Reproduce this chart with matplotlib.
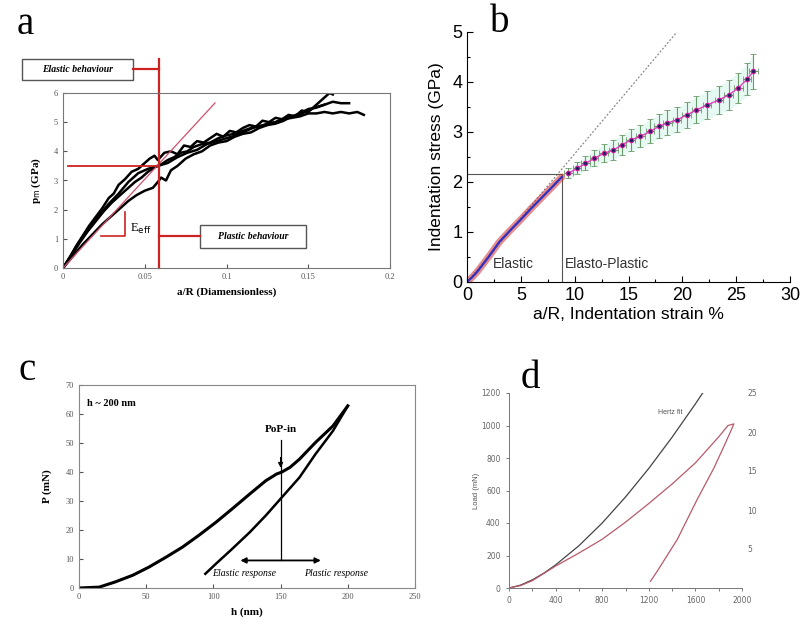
import matplotlib.pyplot as plt
from matplotlib.patches import Rectangle

# ---- panel a : mean pressure vs a/R (several indents)
a_x1 = [0, .004, .008, .012, .016, .02, .024, .028, .031, .034, .038, .042, .046, .05, .053, .056, .058, .062, .066, .07,
        .074, .078, .082, .086, .09, .094, .098, .102, .106, .11, .114, .118, .122, .126, .13, .134, .138, .142, .146,
        .15, .154, .157, .16, .163, .165]
a_y1 = [0, .35, .75, 1.1, 1.45, 1.75, 2.05, 2.4, 2.55, 2.85, 3.05, 3.3, 3.4, 3.6, 3.75, 3.85, 3.7, 3.95, 4.0, 3.9,
        4.2, 4.15, 4.35, 4.3, 4.45, 4.6, 4.5, 4.7, 4.65, 4.8, 4.9, 4.85, 5.05, 5.0, 5.15, 5.1, 5.25, 5.2, 5.4,
        5.35, 5.55, 5.7, 5.85, 6.0, 5.95]
a_x2 = [0, .005, .01, .015, .02, .025, .03, .035, .04, .044, .048, .052, .056, .06, .064, .068, .072, .076, .08, .085,
        .09, .095, .1, .105, .11, .115, .12, .125, .13, .135, .14, .145, .15, .155, .16, .165, .17, .175, .18, .184]
a_y2 = [0, .4, .85, 1.25, 1.6, 1.95, 2.25, 2.5, 2.75, 2.95, 3.1, 3.3, 3.45, 3.55, 3.7, 3.8, 3.95, 4.0, 4.15, 4.25,
        4.3, 4.45, 4.55, 4.6, 4.7, 4.8, 4.85, 4.95, 5.0, 5.1, 5.15, 5.2, 5.3, 5.3, 5.35, 5.3, 5.35, 5.3, 5.35, 5.25]
a_x3 = [0, .006, .012, .018, .024, .03, .036, .04, .045, .05, .055, .058, .06, .063, .066, .07, .075, .08, .085, .09,
        .095, .1, .105, .11, .115, .12, .125, .13, .135, .14, .145, .15, .155, .16, .165, .17, .175]
a_y3 = [0, .4, .8, 1.15, 1.5, 1.8, 2.1, 2.3, 2.5, 2.65, 2.75, 2.95, 3.1, 3.0, 3.35, 3.5, 3.75, 3.9, 4.0, 4.2,
        4.3, 4.35, 4.5, 4.6, 4.65, 4.8, 4.9, 4.95, 5.05, 5.2, 5.3, 5.45, 5.5, 5.6, 5.7, 5.65, 5.65]
a_x4 = [0, .005, .01, .016, .022, .028, .034, .04, .046, .052, .058, .064, .07, .076, .082, .088, .094, .1, .106,
        .112, .118, .124, .13, .136, .142, .148, .154, .16]
a_y4 = [0, .45, .9, 1.35, 1.8, 2.2, 2.55, 2.95, 3.25, 3.4, 3.5, 3.6, 3.8, 3.95, 4.05, 4.25, 4.35, 4.45, 4.55,
        4.7, 4.85, 4.9, 5.0, 5.15, 5.2, 5.35, 5.5, 5.6]
a_curves = [(a_x1, a_y1), (a_x2, a_y2), (a_x3, a_y3), (a_x4, a_y4)]
a_fit_x = [0, 0.093]
a_fit_y = [0, 5.66]
a_yield_x = 0.0587
a_yield_y = 3.5

# ---- panel b : indentation stress-strain
b_el_x = [0, 0.5, 1, 1.5, 2, 2.5, 3, 4, 5, 6, 7, 8, 8.8]
b_el_y = [0, 0.1, 0.22, 0.36, 0.5, 0.65, 0.8, 1.03, 1.25, 1.48, 1.7, 1.92, 2.1]
b_pl_x = [9.4, 10.2, 11.0, 11.8, 12.7, 13.6, 14.4, 15.2, 16.1, 17.0, 17.8, 18.6, 19.5, 20.4, 21.3, 22.3, 23.4,
          24.3, 25.2, 26.0, 26.6]
b_pl_y = [2.17, 2.27, 2.37, 2.47, 2.57, 2.64, 2.74, 2.84, 2.91, 3.01, 3.11, 3.18, 3.24, 3.34, 3.44, 3.54, 3.64,
          3.74, 3.88, 4.05, 4.21]
b_pl_err = [0.1, 0.12, 0.14, 0.16, 0.18, 0.2, 0.2, 0.22, 0.22, 0.24, 0.24, 0.25, 0.25, 0.26, 0.27, 0.28, 0.28,
            0.3, 0.3, 0.32, 0.35]
b_pl_xerr = [0.4] * 21
b_fit_x = [0, 19.5]
b_fit_y = [0, 5.0]
b_yield_x = 8.8
b_yield_y = 2.15

# ---- panel c : load-displacement with pop-in
c_load_h = [0, 15, 27, 40, 52, 65, 77, 89, 102, 114, 127, 139, 147, 151, 157, 164, 176, 189, 200]
c_load_p = [0, 0.3, 2.1, 4.4, 7.2, 10.7, 14.1, 18.1, 22.7, 27.3, 32.4, 37.0, 39.3, 40.0, 41.6, 44.4, 50.2, 55.9, 62.8]
c_unl_h = [200, 189, 176, 164, 151, 139, 127, 114, 102, 94]
c_unl_p = [62.8, 54.2, 46.2, 38.1, 31.3, 25.0, 19.2, 13.5, 8.4, 4.9]
c_popin_h = 150

# ---- panel d : Hertz fit and load/unload loop
d_hertz_h = [0, 100, 200, 300, 400, 600, 800, 1000, 1200, 1400, 1600, 1700]
d_hertz_p = [0, 18, 50, 92, 142, 260, 400, 560, 736, 928, 1133, 1240]
d_loop_h = [0, 100, 200, 400, 600, 800, 1000, 1200, 1400, 1600, 1800, 1880, 1930, 1900, 1850, 1760, 1614, 1443,
            1271, 1214]
d_loop_p = [0, 15, 45, 135, 215, 300, 405, 520, 640, 770, 930, 1000, 1010, 960, 880, 740, 543, 297, 102, 41]

W, H = 800, 631
fig = plt.figure(figsize=(W / 100, H / 100), dpi=100)


def box(l, t, r, b):
    return [l / W, 1 - b / H, (r - l) / W, (b - t) / H]


serif = 'Liberation Serif'
sans = 'Liberation Sans'

# ================= a
ax = fig.add_axes(box(63, 93, 390, 268))
for xs, ys in a_curves:
    ax.plot(xs, ys, color='black', lw=1.8)
ax.plot(a_fit_x, a_fit_y, color='#d0506a', lw=0.9)
red = '#cc2222'
ax.plot([a_yield_x, a_yield_x], [0, 7.17], color=red, lw=1.6, clip_on=False)
ax.plot([0.003, a_yield_x], [a_yield_y, a_yield_y], color=red, lw=1.3)
ax.plot([0.023, 0.038, 0.038], [1.09, 1.09, 1.91], color=red, lw=1.2)
ax.text(0.041, 1.35, r'E$_{\rm eff}$', family=serif, fontsize=9, ha='left', va='center')
ax.set_xlim(0, 0.2)
ax.set_ylim(0, 6)
ax.set_xticks([0, 0.05, 0.1, 0.15, 0.2])
ax.set_xticklabels(['0', '0.05', '0.1', '0.15', '0.2'])
ax.set_xlabel('a/R (Diamensionless)', family=serif, fontsize=8, fontweight='bold', labelpad=5)
ax.set_ylabel(r'p$_{\rm m}$ (GPa)', family=serif, fontsize=8, fontweight='bold', labelpad=8)
ax.tick_params(direction='in', labelsize=6, colors='#555555', length=3)
for lab in ax.get_xticklabels() + ax.get_yticklabels():
    lab.set_family(serif)
for s in ax.spines.values():
    s.set_color('#777777')

# boxes with connectors (figure pixels)
for (l, t, r, b), txt, y_c, x_from, x_to in [((22, 59, 133, 80), 'Elastic behaviour', 69, 133, 159),
                                             ((200, 225, 306, 248), 'Plastic behaviour', 236, 159, 200)]:
    fig.patches.append(Rectangle((l / W, 1 - b / H), (r - l) / W, (b - t) / H, transform=fig.transFigure,
                                 fill=False, ec='#555555', lw=1.0))
    fig.text((l + r) / 2 / W, 1 - (t + b) / 2 / H, txt, family=serif, fontsize=7, style='italic',
             fontweight='bold', ha='center', va='center')
    fig.add_artist(plt.Line2D([x_from / W, x_to / W], [1 - y_c / H, 1 - y_c / H], color=red, lw=1.6))

# ================= b
ax = fig.add_axes(box(467, 32, 790, 282))
ax.plot(b_fit_x, b_fit_y, color='#888888', lw=0.9, ls=(0, (1.5, 1.5)))
ax.plot([0, b_yield_x, b_yield_x], [b_yield_y, b_yield_y, 0], color='#555555', lw=0.8)
lo = [y - e for y, e in zip(b_pl_y, b_pl_err)]
hi = [y + e for y, e in zip(b_pl_y, b_pl_err)]
ax.fill_between(b_pl_x, lo, hi, color='#b8eedd', alpha=0.35, lw=0)
ax.plot(b_el_x, b_el_y, color='#d03030', lw=5, alpha=0.55, solid_capstyle='round')
ax.plot(b_el_x, b_el_y, color='#3030c0', lw=1.6)
ax.errorbar(b_pl_x, b_pl_y, yerr=b_pl_err, xerr=b_pl_xerr, fmt='none', ecolor='#6a9a6a', elinewidth=0.8,
            capsize=2, capthick=0.6)
ax.plot(b_pl_x, b_pl_y, color='#e040c0', lw=1.0)
ax.plot(b_pl_x, b_pl_y, 'o', color='#202060', ms=3.2, mec='#d020a0', mew=0.8)
ax.text(4.3, 0.35, 'Elastic', family=sans, fontsize=10, color='#333333', ha='center', va='center')
ax.text(9.1, 0.35, 'Elasto-Plastic', family=sans, fontsize=10, color='#333333', ha='left', va='center')
ax.set_xlim(0, 30)
ax.set_ylim(0, 5)
ax.set_xticks(range(0, 31, 5))
ax.set_xticks([2.5, 7.5, 12.5, 17.5, 22.5, 27.5], minor=True)
ax.set_yticks(range(0, 6))
ax.set_yticks([0.5, 1.5, 2.5, 3.5, 4.5], minor=True)
ax.tick_params(which='both', direction='in', labelsize=13, length=4, width=0.8)
ax.tick_params(which='minor', length=2)
for lab in ax.get_xticklabels() + ax.get_yticklabels():
    lab.set_family(sans)
ax.spines['top'].set_visible(False)
ax.spines['right'].set_visible(False)
ax.set_xlabel('a/R, Indentation strain %', family=sans, fontsize=12.5, labelpad=2)
ax.set_ylabel('Indentation stress (GPa)', family=sans, fontsize=12.5, labelpad=6)

# ================= c
ax = fig.add_axes(box(79, 385, 415, 588))
ax.plot(c_load_h, c_load_p, color='black', lw=2.2)
ax.plot(c_unl_h, c_unl_p, color='black', lw=1.8)
ax.plot([c_popin_h, c_popin_h], [9.5, 51], color='black', lw=0.9)
ax.annotate('', xy=(c_popin_h, 40.5), xytext=(c_popin_h, 46),
            arrowprops=dict(arrowstyle='-|>', color='black', lw=0.9, mutation_scale=7))
ax.text(c_popin_h, 54.5, 'PoP-in', family=serif, fontsize=8, fontweight='bold', ha='center', va='center')
ax.annotate('', xy=(118, 9.5), xytext=(182, 9.5),
            arrowprops=dict(arrowstyle='<|-|>', color='black', lw=1.3, mutation_scale=8))
ax.text(123, 4.9, 'Elastic response', family=serif, fontsize=7, style='italic', ha='center', va='center')
ax.text(191, 4.9, 'Plastic response', family=serif, fontsize=7, style='italic', ha='center', va='center')
ax.text(6, 63.5, 'h ~ 200 nm', family=serif, fontsize=7.5, fontweight='bold', ha='left', va='center')
ax.set_xlim(0, 250)
ax.set_ylim(0, 70)
ax.set_xticks(range(0, 251, 50))
ax.set_yticks(range(0, 71, 10))
ax.tick_params(direction='in', labelsize=6, colors='#555555', length=3)
for lab in ax.get_xticklabels() + ax.get_yticklabels():
    lab.set_family(serif)
for s in ax.spines.values():
    s.set_color('#888888')
ax.set_xlabel('h (nm)', family=serif, fontsize=8, fontweight='bold', labelpad=5)
ax.set_ylabel('P (mN)', family=serif, fontsize=8, fontweight='bold', labelpad=10)

# ================= d
ax = fig.add_axes(box(509, 393, 742, 588))
ax.plot(d_hertz_h, d_hertz_p, color='#444444', lw=0.9)
ax.plot(d_loop_h, d_loop_p, color='#b85a6a', lw=0.9)
ax.text(1380, 1077, 'Hertz fit', family=sans, fontsize=5, color='#555555', ha='center', va='center')
ax.set_xlim(0, 2000)
ax.set_ylim(0, 1200)
ax.set_xticks(range(0, 2001, 400))
ax.set_xticks(range(200, 2000, 400), minor=True)
ax.set_yticks(range(0, 1201, 200))
ax.tick_params(which='both', labelsize=5.5, colors='#666666', length=2.5, width=0.6)
ax.spines['top'].set_visible(False)
ax.spines['right'].set_visible(False)
for s in ('left', 'bottom'):
    ax.spines[s].set_color('#777777')
    ax.spines[s].set_linewidth(0.7)
ax.set_ylabel('Load (mN)', family=sans, fontsize=5.5, color='#555555', labelpad=1)
axr = ax.twinx()
axr.set_ylim(0, 25)
axr.set_yticks([5, 10, 15, 20, 25])
axr.tick_params(labelsize=5.5, colors='#666666', length=0, pad=4)
for s in axr.spines.values():
    s.set_visible(False)

# panel letters
for x, y, l in [(25, 25, 'a'), (500, 22, 'b'), (27, 370, 'c'), (530, 378, 'd')]:
    fig.text(x / W, 1 - y / H, l, family=serif, fontsize=28, ha='center', va='center')

fig.savefig('out.png', dpi=100)
